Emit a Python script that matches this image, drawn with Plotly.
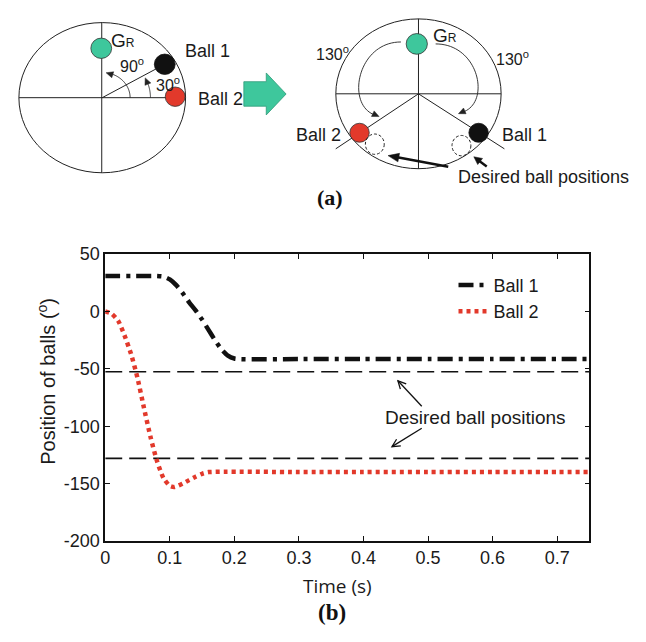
import math
import plotly.graph_objects as go

# ---------------- data ----------------
time_ball1 = [0, 0.02, 0.04, 0.06, 0.08, 0.09, 0.10, 0.11, 0.12, 0.13, 0.14, 0.15,
              0.16, 0.17, 0.18, 0.19, 0.20, 0.21, 0.30, 0.40, 0.50, 0.60, 0.70, 0.75]
pos_ball1 = [31, 31, 31, 31, 31, 30.5, 28, 23, 16, 8, 1, -7,
             -16, -25, -33, -38.5, -41, -41.5, -41.5, -41.5, -41.5, -41.5, -41.5, -41.5]

time_ball2 = [0, 0.01, 0.02, 0.03, 0.04, 0.05, 0.06, 0.07, 0.08, 0.09, 0.10, 0.107,
              0.12, 0.13, 0.14, 0.15, 0.16, 0.30, 0.40, 0.50, 0.60, 0.70, 0.75]
pos_ball2 = [0, -2, -8, -21, -37, -58, -84, -109, -130, -145, -152, -153,
             -150, -147, -144, -141.5, -140, -140, -140, -140, -140, -140, -140]

desired_time = [0, 0.75]
desired_ball1 = [-52.5, -52.5]
desired_ball2 = [-128, -128]

x_tickvals = [0, 0.1, 0.2, 0.3, 0.4, 0.5, 0.6, 0.7]
x_ticktext = ["0", "0.1", "0.2", "0.3", "0.4", "0.5", "0.6", "0.7"]
y_tickvals = [50, 0, -50, -100, -150, -200]
y_ticktext = ["50", "0", "-50", "-100", "-150", "-200"]

# ---------------- figure ----------------
W, H = 646, 642
FONT = "Liberation Sans, Arial, sans-serif"
GREEN = "#3ec79c"
RED = "#e2392b"


def px(x):
    return x / W


def py(y):
    return 1 - y / H


fig = go.Figure()
fig.add_trace(go.Scatter(x=desired_time, y=desired_ball1, mode="lines", showlegend=False,
                         line=dict(color="#111", width=1.6, dash="17px,7px")))
fig.add_trace(go.Scatter(x=desired_time, y=desired_ball2, mode="lines", showlegend=False,
                         line=dict(color="#111", width=1.6, dash="17px,7px")))
fig.add_trace(go.Scatter(x=time_ball1, y=pos_ball1, mode="lines", name="Ball 1",
                         line=dict(color="#111", width=4.5, dash="15px,6px,4px,6px", shape="spline", smoothing=0.6)))
fig.add_trace(go.Scatter(x=time_ball2, y=pos_ball2, mode="lines", name="Ball 2",
                         line=dict(color=RED, width=4.5, dash="4px,4px", shape="spline", smoothing=0.6)))

axis_common = dict(showline=True, linecolor="#111", linewidth=1.5, mirror="ticks",
                   ticks="inside", ticklen=5, tickcolor="#111", tickwidth=1.2,
                   showgrid=False, zeroline=False,
                   tickfont=dict(family=FONT, size=18, color="#1a1a1a"))

fig.update_layout(
    width=W, height=H, margin=dict(l=0, r=0, t=0, b=0),
    paper_bgcolor="white", plot_bgcolor="white",
    xaxis=dict(domain=[101 / W, 589 / W], range=[0, 0.75],
               tickvals=x_tickvals, ticktext=x_ticktext, **axis_common),
    yaxis=dict(domain=[1 - 548 / H, 1 - 252 / H], range=[-200, 50],
               tickvals=y_tickvals, ticktext=y_ticktext, **axis_common),
    legend=dict(x=px(452), y=py(265), xanchor="left", yanchor="top",
                bgcolor="rgba(0,0,0,0)", font=dict(family=FONT, size=18, color="#1a1a1a"),
                tracegroupgap=0, itemwidth=30),
)

shapes = []
annots = []


def text(x, y, s, size=18, family=FONT, angle=0, color="#1a1a1a"):
    annots.append(dict(x=px(x), y=py(y), xref="paper", yref="paper", text=s, showarrow=False,
                       xanchor="center", yanchor="middle", textangle=angle,
                       font=dict(family=family, size=size, color=color)))


def line(x0, y0, x1, y1, width=1.0, color="#222", dash="solid"):
    shapes.append(dict(type="line", xref="paper", yref="paper", x0=px(x0), y0=py(y0),
                       x1=px(x1), y1=py(y1), line=dict(color=color, width=width, dash=dash)))


def ellipse(cx, cy, rx, ry, fill="rgba(0,0,0,0)", color="#222", width=1.0, dash="solid"):
    shapes.append(dict(type="circle", xref="paper", yref="paper",
                       x0=px(cx - rx), x1=px(cx + rx), y0=py(cy + ry), y1=py(cy - ry),
                       fillcolor=fill, line=dict(color=color, width=width, dash=dash)))


def path(points, closed=False, fill=None, color="#222", width=1.0):
    d = "M " + " L ".join(f"{px(x):.5f},{py(y):.5f}" for x, y in points)
    if closed:
        d += " Z"
    sh = dict(type="path", xref="paper", yref="paper", path=d,
              line=dict(color=color, width=width))
    if fill:
        sh["fillcolor"] = fill
    shapes.append(sh)


def arrowhead(tip, direction, length=7, half=3.2, color="#222"):
    dx, dy = direction
    n = math.hypot(dx, dy)
    dx, dy = dx / n, dy / n
    bx, by = tip[0] - dx * length, tip[1] - dy * length
    p1 = (bx - dy * half, by + dx * half)
    p2 = (bx + dy * half, by - dx * half)
    path([tip, p1, p2], closed=True, fill=color, color=color, width=0.5)


def open_arrow(tail, tip, width=1.3, length=8, half=4, color="#111"):
    line(tail[0], tail[1], tip[0], tip[1], width=width, color=color)
    dx, dy = tip[0] - tail[0], tip[1] - tail[1]
    n = math.hypot(dx, dy)
    dx, dy = dx / n, dy / n
    bx, by = tip[0] - dx * length, tip[1] - dy * length
    path([(bx - dy * half, by + dx * half), tip, (bx + dy * half, by - dx * half)],
         color=color, width=width)


def bezier(p0, p1, p2, p3, n=40):
    pts = []
    for i in range(n + 1):
        t = i / n
        a, b, c, d = (1 - t) ** 3, 3 * (1 - t) ** 2 * t, 3 * (1 - t) * t ** 2, t ** 3
        pts.append((a * p0[0] + b * p1[0] + c * p2[0] + d * p3[0],
                    a * p0[1] + b * p1[1] + c * p2[1] + d * p3[1]))
    return pts


def arc(cx, cy, r, a0, a1, sx=1.08, n=40):
    pts = []
    for i in range(n + 1):
        a = math.radians(a0 + (a1 - a0) * i / n)
        pts.append((cx + sx * r * math.cos(a), cy - r * math.sin(a)))
    return pts


# ---------- left diagram ----------
c1x, c1y = 98, 90.5
ellipse(c1x, c1y, 84, 77.5)
line(14, 90.5, 182, 90.5)
line(97.5, 13, 97.5, 168)
line(c1x, c1y, 161, 56)
ellipse(97, 39.5, 10.5, 10.5, fill=GREEN, color="#333", width=0.8)
ellipse(161, 56, 10.5, 10.5, fill="#111", color="#111", width=0.8)
ellipse(171.5, 89.5, 10, 10, fill=RED, color="#333", width=0.8)
a90 = arc(c1x, c1y, 26, 0, 74)
path(a90, width=0.9)
arrowhead(arc(c1x, c1y, 26, 82, 82)[0], (a90[-1][0] - a90[-4][0], a90[-1][1] - a90[-4][1]))
a30 = arc(c1x, c1y, 45, 0, 22)
path(a30, width=0.9)
arrowhead(arc(c1x, c1y, 45, 27, 27)[0], (a30[-1][0] - a30[-4][0], a30[-1][1] - a30[-4][1]))
text(118.5, 31, "G<span style='font-size:12px'>R</span>", size=19)
text(204, 42, "Ball 1")
text(217, 92, "Ball 2")
text(128, 57, "90<sup>o</sup>", size=16)
text(164, 76, "30<sup>o</sup>", size=16)

# green block arrow
path([(240.7, 74), (263.3, 74), (263.3, 65), (283.3, 86.7), (263.3, 108.3), (263.3, 99.3), (240.7, 99.3)],
     closed=True, fill=GREEN, color="#2f9a78", width=0.8)

# ---------- right diagram ----------
c2x, c2y = 416.7, 86.5
ellipse(c2x, c2y, 83.3, 77.3)
line(333.5, 86.5, 500, 86.5)
line(416.7, 9, 416.7, 164)
line(c2x, c2y, 333.3, 143.3)
line(c2x, c2y, 503.3, 143.3)
ellipse(415, 35, 10.7, 10.7, fill=GREEN, color="#333", width=0.8)
ellipse(357.3, 126.7, 9.8, 9.8, fill=RED, color="#333", width=0.8)
ellipse(477.3, 126.7, 9.8, 9.8, fill="#111", color="#111", width=0.8)
ellipse(372.7, 138.5, 9.5, 10.5, color="#222", width=1.0, dash="3px,2px")
ellipse(460, 140, 9.5, 10.5, color="#222", width=1.0, dash="3px,2px")
lb = bezier((399, 33), (355, 33), (343, 98), (373, 108.5))
path(lb, width=0.9)
arrowhead((377, 110), (lb[-1][0] - lb[-3][0], lb[-1][1] - lb[-3][1]))
rb = bezier((434, 35), (478, 35), (490, 96), (461, 105.5))
path(rb, width=0.9)
arrowhead((457, 107), (rb[-1][0] - rb[-3][0], rb[-1][1] - rb[-3][1]))
text(443.5, 26, "G<span style='font-size:12px'>R</span>", size=19)
text(330.5, 44, "130<sup>o</sup>", size=16)
text(511, 49.5, "130<sup>o</sup>", size=16)
text(316, 129, "Ball 2")
text(524, 129, "Ball 1")
text(542.5, 172, "Desired ball positions")
text(327.5, 194, "<b>(a)</b>", size=22, family="Liberation Serif, Times New Roman, serif", color="#111")

# thick arrows to desired positions (drawn as line + head)
line(446.7, 161.7, 394, 151.8, width=2.6, color="#111")
arrowhead((386, 150.3), (386 - 446.7, 150.3 - 161.7), length=11, half=4.5, color="#111")
line(485.5, 161.5, 477, 155, width=2.4, color="#111")
arrowhead((472.5, 151.5), (472.5 - 485.5, 151.5 - 161.5), length=8, half=4, color="#111")

# ---------- chart labels ----------
text(473.7, 421, "Desired ball positions", size=19)
open_arrow((420, 409), (396, 382.7))
open_arrow((420, 431.7), (390, 450.7))
text(41, 383, "Position of balls (<sup>o</sup>)", size=20, angle=-90)
text(335, 595, "Time (s)", size=19, family="Open Sans, sans-serif")
text(330, 622, "<b>(b)</b>", size=23, family="Liberation Serif, Times New Roman, serif", color="#111")

fig.update_layout(shapes=shapes, annotations=annots)
fig.write_html("out.html")
